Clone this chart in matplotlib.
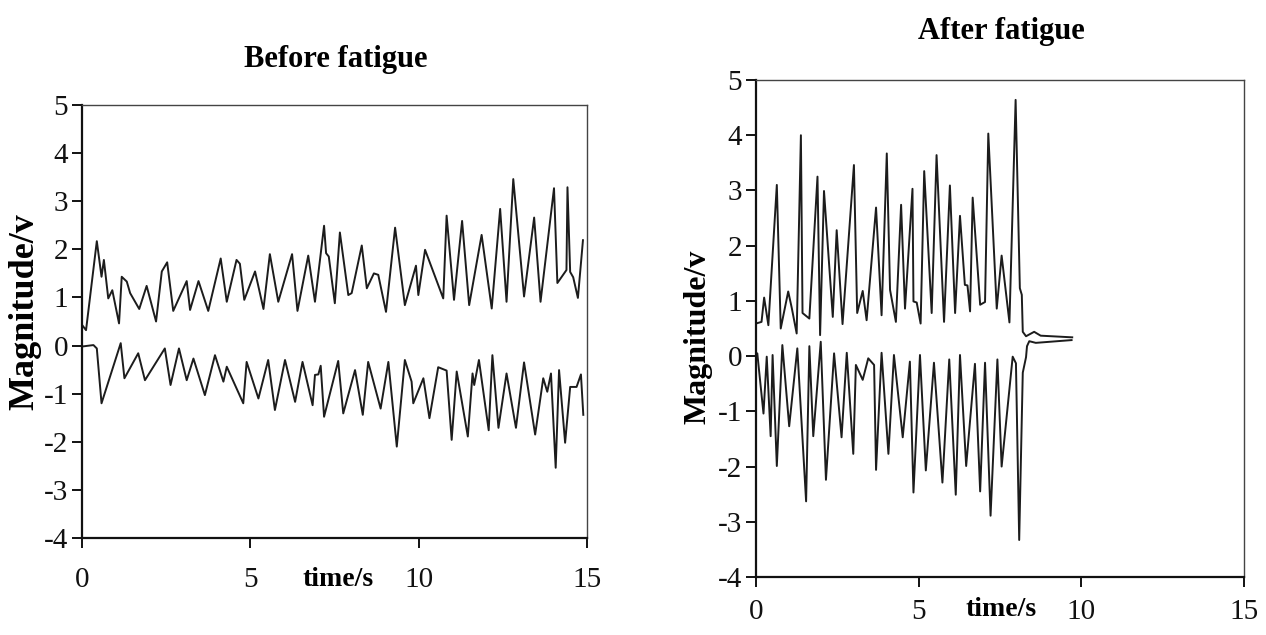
import matplotlib
matplotlib.use("Agg")
import matplotlib.pyplot as plt

plt.rcParams['font.family'] = ['Liberation Serif', 'DejaVu Serif']
plt.rcParams['axes.unicode_minus'] = False

# Before fatigue - upper trace (time s, magnitude v)
before_up_t = [0, 0.12, 0.44, 0.58, 0.65, 0.78, 0.90, 1.10, 1.18, 1.33, 1.43, 1.70, 1.92, 2.20,
               2.37, 2.53, 2.71, 3.11, 3.21, 3.46, 3.75, 4.12, 4.30, 4.59, 4.69, 4.82, 5.14, 5.39,
               5.58, 5.83, 6.24, 6.40, 6.72, 6.92, 7.19, 7.25, 7.33, 7.51, 7.66, 7.91, 8.01, 8.31,
               8.46, 8.67, 8.80, 9.03, 9.30, 9.59, 9.92, 9.99, 10.19, 10.73, 10.83, 11.05, 11.29,
               11.50, 11.87, 12.17, 12.42, 12.61, 12.81, 13.13, 13.43, 13.62, 14.02, 14.12, 14.39,
               14.42, 14.50, 14.59, 14.73, 14.88]
before_up_v = [0.43, 0.32, 2.17, 1.43, 1.78, 0.98, 1.15, 0.46, 1.43, 1.33, 1.09, 0.76, 1.24, 0.50,
               1.54, 1.73, 0.72, 1.34, 0.74, 1.34, 0.72, 1.81, 0.91, 1.78, 1.70, 0.95, 1.54, 0.76,
               1.90, 0.91, 1.90, 0.72, 1.87, 0.91, 2.49, 1.92, 1.85, 0.88, 2.35, 1.05, 1.09, 2.08,
               1.19, 1.50, 1.47, 0.70, 2.45, 0.84, 1.66, 1.05, 1.99, 0.98, 2.70, 0.95, 2.59,
               0.84, 2.30, 0.77, 2.84, 0.91, 3.46, 1.02, 2.66, 0.91, 3.27, 1.30, 1.57,
               3.29, 1.53, 1.42, 0.99, 2.19]

# Before fatigue - lower trace
before_lo_t = [0, 0.34, 0.44, 0.58, 1.15, 1.26, 1.67, 1.87, 2.46, 2.63, 2.88, 3.11, 3.31, 3.65,
               3.95, 4.20, 4.30, 4.79, 4.89, 5.24, 5.53, 5.73, 6.03, 6.33, 6.55, 6.85, 6.92, 7.02,
               7.09, 7.19, 7.61, 7.76, 8.11, 8.34, 8.50, 8.87, 9.10, 9.35, 9.59, 9.79, 9.84, 10.14,
               10.32, 10.58, 10.83, 10.98, 11.13, 11.46, 11.60, 11.65, 11.79, 12.08, 12.19, 12.37,
               12.61, 12.89, 13.13, 13.46, 13.70, 13.82, 13.93, 14.07, 14.17, 14.35, 14.50, 14.69,
               14.82, 14.89]
before_lo_v = [-0.02, 0.01, -0.06, -1.20, 0.05, -0.68, -0.16, -0.72, -0.06, -0.82, -0.06, -0.72, -0.27, -1.03,
               -0.20, -0.75, -0.44, -1.20, -0.34, -1.10, -0.30, -1.34, -0.30, -1.17, -0.34, -1.24, -0.61, -0.60,
               -0.42, -1.48, -0.32, -1.41, -0.51, -1.44, -0.34, -1.31, -0.34, -2.10, -0.30, -0.75, -1.20, -0.68,
               -1.51, -0.45, -0.52, -1.96, -0.54, -1.89, -0.58, -0.82, -0.30, -1.76, -0.20, -1.71,
               -0.58, -1.71, -0.35, -1.85, -0.68, -0.96, -0.58, -2.54, -0.51, -2.02, -0.86, -0.86,
               -0.60, -1.44]

# After fatigue - upper trace
after_up_t = [0, 0.17, 0.25, 0.38, 0.64, 0.76, 0.99, 1.10, 1.25, 1.38, 1.43, 1.64, 1.89, 1.97,
              2.09, 2.36, 2.48, 2.66, 3.01, 3.11, 3.28, 3.40, 3.69, 3.86, 4.02, 4.12, 4.30, 4.46,
              4.58, 4.81, 4.84, 4.94, 5.06, 5.17, 5.40, 5.55, 5.78, 5.96, 6.12, 6.27, 6.42, 6.50,
              6.58, 6.66, 6.89, 7.04, 7.14, 7.40, 7.55, 7.79, 7.98, 8.11, 8.17, 8.20, 8.30, 8.55,
              8.75, 9.72]
after_up_v = [0.59, 0.62, 1.06, 0.56, 3.10, 0.50, 1.17, 0.87, 0.41, 4.00, 0.78, 0.68, 3.25, 0.38,
              2.99, 0.71, 2.28, 0.58, 3.46, 0.78, 1.18, 0.65, 2.69, 0.74, 3.67, 1.20, 0.62, 2.74,
              0.86, 3.03, 0.99, 0.97, 0.59, 3.35, 0.78, 3.64, 0.62, 3.09, 0.78, 2.54, 1.29, 1.28,
              0.81, 2.87, 0.93, 0.98, 4.03, 0.86, 1.82, 0.61, 4.64, 1.23, 1.11, 0.44, 0.36, 0.44,
              0.37, 0.34]

# After fatigue - lower trace
after_lo_t = [0, 0.04, 0.23, 0.33, 0.45, 0.51, 0.64, 0.81, 1.02, 1.27, 1.54, 1.64, 1.76, 1.99,
              2.15, 2.40, 2.63, 2.79, 2.99, 3.07, 3.28, 3.45, 3.63, 3.69, 3.86, 4.07, 4.24, 4.51,
              4.73, 4.84, 5.04, 5.22, 5.47, 5.73, 5.94, 6.14, 6.27, 6.46, 6.73, 6.89, 7.04, 7.21,
              7.42, 7.55, 7.89, 7.99, 8.09, 8.20, 8.30, 8.33, 8.40, 8.60, 9.70]
after_lo_v = [0.02, 0.05, -1.04, -0.01, -1.45, 0.02, -1.99, 0.20, -1.27, 0.14, -2.63, 0.18, -1.45, 0.26,
              -2.24, 0.05, -1.47, 0.06, -1.77, -0.16, -0.43, -0.04, -0.16, -2.06, 0.06, -1.77, 0.02, -1.47,
              -0.10, -2.47, 0.02, -2.07, -0.12, -2.29, -0.06, -2.51, 0.02, -1.99, -0.14, -2.45, -0.12, -2.89,
              -0.06, -2.00, -0.01, -0.13, -3.33, -0.30, -0.02, 0.18, 0.27, 0.24, 0.29]

x_ticks = [0, 5, 10, 15]
y_ticks = [-4, -3, -2, -1, 0, 1, 2, 3, 4, 5]

W, H = 1266, 635
fig = plt.figure(figsize=(W / 100, H / 100), dpi=100)

ax1 = fig.add_axes([82 / W, 1 - 538 / H, 505 / W, 433 / H])
ax2 = fig.add_axes([756 / W, 1 - 577 / H, 488 / W, 497 / H])

line_color = '#1c1c1c'
for ax, t, v in [(ax1, before_up_t, before_up_v), (ax1, before_lo_t, before_lo_v),
                 (ax2, after_up_t, after_up_v), (ax2, after_lo_t, after_lo_v)]:
    ax.plot(t, v, color=line_color, lw=1.4, solid_joinstyle='round')

for ax, xpad in [(ax1, 14), (ax2, 9)]:
    ax.set_xlim(0, 15)
    ax.set_ylim(-4, 5)
    ax.set_xticks(x_ticks)
    ax.set_yticks(y_ticks)
    ax.tick_params(direction='out', length=7, width=1.4, labelsize=21, colors='#111111')
    ax.tick_params(axis='x', pad=xpad)
    ax.tick_params(axis='y', pad=3)
    for s in ['left', 'bottom']:
        ax.spines[s].set_linewidth(1.6)
        ax.spines[s].set_color('#111111')
    for s in ['top', 'right']:
        ax.spines[s].set_linewidth(1.0)
        ax.spines[s].set_color('#444444')

# titles and axis labels
fig.text(336 / W, 1 - 60 / H, 'Before fatigue', ha='center', va='center',
         fontsize=22, fontweight='bold')
fig.text(1001 / W, 1 - 32 / H, 'After fatigue', ha='center', va='center',
         fontsize=22, fontweight='bold')
fig.text(25 / W, 1 - 312 / H, 'Magnitude/v', ha='center', va='center', rotation=90,
         fontsize=26, fontweight='bold')
fig.text(698 / W, 1 - 337 / H, 'Magnitude/v', ha='center', va='center', rotation=90,
         fontsize=23, fontweight='bold')
fig.text(338 / W, 1 - 580 / H, 'time/s', ha='center', va='center',
         fontsize=20, fontweight='bold')
fig.text(1001 / W, 1 - 609 / H, 'time/s', ha='center', va='center',
         fontsize=20, fontweight='bold')

plt.savefig('out.png', dpi=100)
